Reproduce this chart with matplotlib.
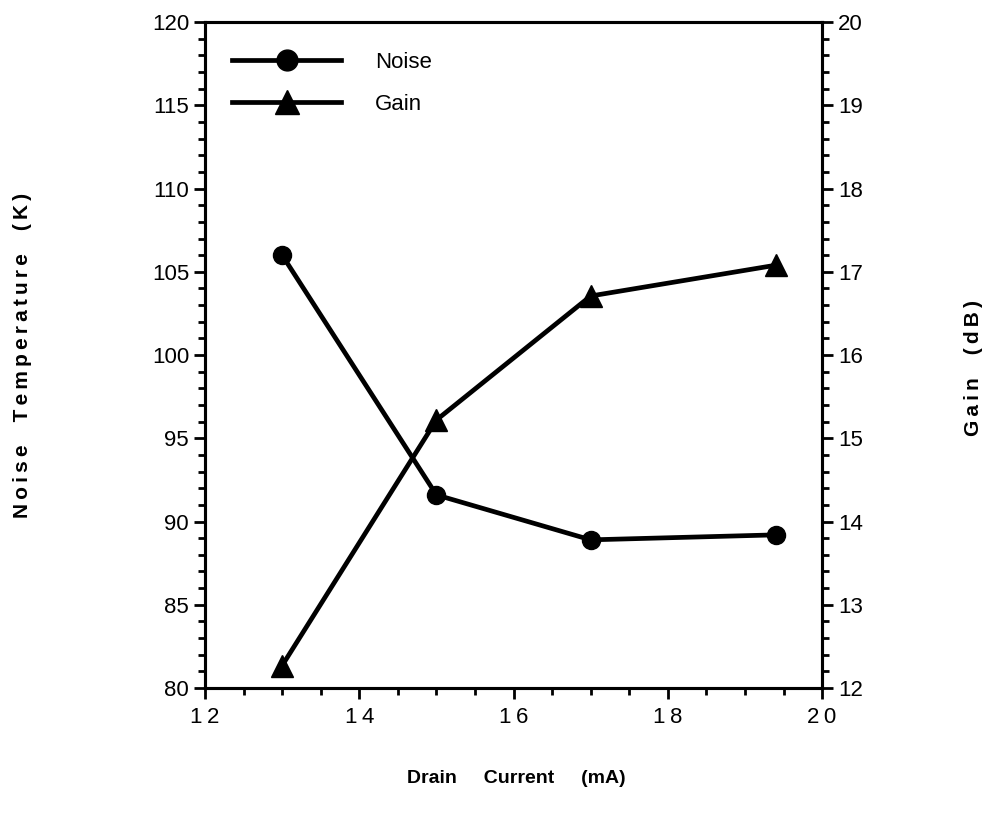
import matplotlib.pyplot as plt
from matplotlib.ticker import MultipleLocator, FuncFormatter
from matplotlib.lines import Line2D

# values
drain_current = [13.0, 15.0, 17.0, 19.4]
noise_temp = [106.0, 91.6, 88.9, 89.2]
gain_db = [12.27, 15.22, 16.71, 17.08]

plt.rcParams['font.family'] = ['Liberation Sans', 'DejaVu Sans']


def spaced(text, gap='    '):
    # the scanned labels have wide letter spacing
    words = ['\u2009'.join(w) for w in text.split()]
    return gap.join(words)


fig = plt.figure(figsize=(9.92, 8.21), dpi=100)
ax = fig.add_axes([0.2067, 0.162, 0.622, 0.811])
ax2 = ax.twinx()

ax.plot(drain_current, noise_temp, color='black', lw=3.4,
        marker='o', ms=13, clip_on=False)
ax2.plot(drain_current, gain_db, color='black', lw=3.4,
         marker='^', ms=16, clip_on=False)

ax.set_xlim(12, 20)
ax.set_ylim(80, 120)
ax2.set_ylim(12, 20)

ax.xaxis.set_major_locator(MultipleLocator(2))
ax.xaxis.set_minor_locator(MultipleLocator(0.5))
ax.xaxis.set_major_formatter(FuncFormatter(lambda v, p: '\u2009'.join(str(int(v)))))
ax.yaxis.set_major_locator(MultipleLocator(5))
ax.yaxis.set_minor_locator(MultipleLocator(1))
ax2.yaxis.set_major_locator(MultipleLocator(1))
ax2.yaxis.set_minor_locator(MultipleLocator(0.2))

for a in (ax, ax2):
    for s in a.spines.values():
        s.set_linewidth(2.2)
    a.tick_params(which='major', direction='out', length=8, width=2, labelsize=16)
    a.tick_params(which='minor', direction='out', length=5, width=2)
ax.tick_params(axis='x', pad=6)
ax.tick_params(top=False, which='both')

lab = dict(fontsize=15, fontweight='bold')
ax.set_xlabel('Drain     Current     (mA)', fontsize=14, fontweight='bold')
ax.xaxis.set_label_coords(0.505, -0.1235)
ax.set_ylabel(spaced('Noise Temperature (K)'), **lab)
ax.yaxis.set_label_coords(-0.281, 0.5)
ax2.set_ylabel(spaced('Gain (dB)'), **lab)
ax2.yaxis.set_label_coords(1.23, 0.48)

handles = [Line2D([], [], color='black', lw=3.4, marker='o', ms=15),
           Line2D([], [], color='black', lw=3.4, marker='^', ms=17)]
ax.legend(handles, ['Noise', 'Gain'], loc='upper left', frameon=False,
          fontsize=16, handlelength=4.9, handletextpad=1.5, labelspacing=0.95,
          bbox_to_anchor=(0.03, 0.969), borderaxespad=0)

fig.savefig('out.png', dpi=100)
